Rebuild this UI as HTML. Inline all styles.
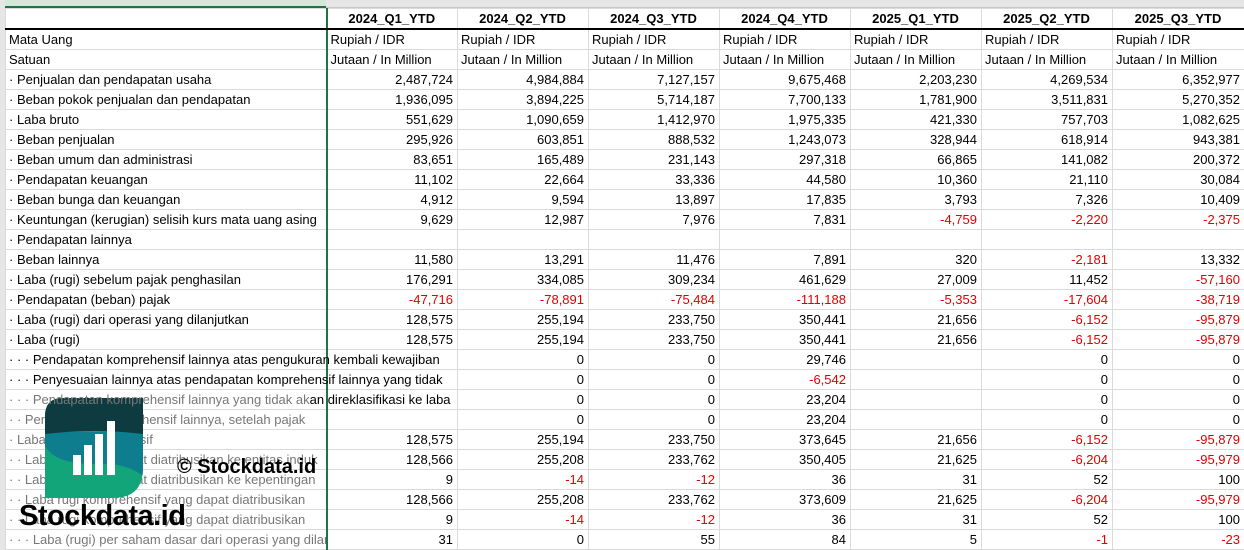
<!DOCTYPE html>
<html><head><meta charset="utf-8">
<style>
body{margin:0;width:1244px;height:550px;overflow:hidden;background:#fff;font-family:"Liberation Sans",sans-serif;font-size:13px;color:#000;position:relative}
.top{position:absolute;left:0;top:0;width:1244px;height:8px;background:#e6e6e6;border-bottom:1px solid #c8c8c8;box-sizing:border-box}
.topA{position:absolute;left:5px;top:0;width:321px;height:8px;background:#d3e8d9;border-bottom:2px solid #217346;box-sizing:border-box}
table{position:absolute;left:5px;top:8px;width:1239px;border-collapse:collapse;table-layout:fixed}
td{height:20px;padding:0 4px 0 3px;border:1px solid #dadada;white-space:nowrap;overflow:hidden;line-height:19px;box-sizing:border-box}
td.n{text-align:right}
td.a{overflow:visible;position:relative}
td.a div{position:absolute;left:3px;top:0;width:314px;overflow:hidden;white-space:nowrap;z-index:1}
td.a div.w{width:448px}
tr.h td{font-weight:bold;text-align:center;border-bottom:2px solid #000}
.r{color:#e00000}
.g{color:#777}
.bl{border-right:2px solid #217346}
.ov{border-left-color:transparent}
</style></head><body>
<div class="top"></div><div class="topA"></div>
<table>
<colgroup><col style="width:321px"><col style="width:131px"><col style="width:131px"><col style="width:131px"><col style="width:131px"><col style="width:131px"><col style="width:131px"><col style="width:132px"></colgroup>
<tr class="h"><td class="bl"></td><td>2024_Q1_YTD</td><td>2024_Q2_YTD</td><td>2024_Q3_YTD</td><td>2024_Q4_YTD</td><td>2025_Q1_YTD</td><td>2025_Q2_YTD</td><td>2025_Q3_YTD</td></tr>
<tr><td class="bl">Mata Uang</td><td>Rupiah / IDR</td><td>Rupiah / IDR</td><td>Rupiah / IDR</td><td>Rupiah / IDR</td><td>Rupiah / IDR</td><td>Rupiah / IDR</td><td>Rupiah / IDR</td></tr>
<tr><td class="bl">Satuan</td><td>Jutaan / In Million</td><td>Jutaan / In Million</td><td>Jutaan / In Million</td><td>Jutaan / In Million</td><td>Jutaan / In Million</td><td>Jutaan / In Million</td><td>Jutaan / In Million</td></tr>
<tr><td class="bl">· Penjualan dan pendapatan usaha</td><td class="n">2,487,724</td><td class="n">4,984,884</td><td class="n">7,127,157</td><td class="n">9,675,468</td><td class="n">2,203,230</td><td class="n">4,269,534</td><td class="n">6,352,977</td></tr>
<tr><td class="bl">· Beban pokok penjualan dan pendapatan</td><td class="n">1,936,095</td><td class="n">3,894,225</td><td class="n">5,714,187</td><td class="n">7,700,133</td><td class="n">1,781,900</td><td class="n">3,511,831</td><td class="n">5,270,352</td></tr>
<tr><td class="bl">· Laba bruto</td><td class="n">551,629</td><td class="n">1,090,659</td><td class="n">1,412,970</td><td class="n">1,975,335</td><td class="n">421,330</td><td class="n">757,703</td><td class="n">1,082,625</td></tr>
<tr><td class="bl">· Beban penjualan</td><td class="n">295,926</td><td class="n">603,851</td><td class="n">888,532</td><td class="n">1,243,073</td><td class="n">328,944</td><td class="n">618,914</td><td class="n">943,381</td></tr>
<tr><td class="bl">· Beban umum dan administrasi</td><td class="n">83,651</td><td class="n">165,489</td><td class="n">231,143</td><td class="n">297,318</td><td class="n">66,865</td><td class="n">141,082</td><td class="n">200,372</td></tr>
<tr><td class="bl">· Pendapatan keuangan</td><td class="n">11,102</td><td class="n">22,664</td><td class="n">33,336</td><td class="n">44,580</td><td class="n">10,360</td><td class="n">21,110</td><td class="n">30,084</td></tr>
<tr><td class="bl">· Beban bunga dan keuangan</td><td class="n">4,912</td><td class="n">9,594</td><td class="n">13,897</td><td class="n">17,835</td><td class="n">3,793</td><td class="n">7,326</td><td class="n">10,409</td></tr>
<tr><td class="bl">· Keuntungan (kerugian) selisih kurs mata uang asing</td><td class="n">9,629</td><td class="n">12,987</td><td class="n">7,976</td><td class="n">7,831</td><td class="n r">-4,759</td><td class="n r">-2,220</td><td class="n r">-2,375</td></tr>
<tr><td class="bl">· Pendapatan lainnya</td><td></td><td></td><td></td><td></td><td></td><td></td><td></td></tr>
<tr><td class="bl">· Beban lainnya</td><td class="n">11,580</td><td class="n">13,291</td><td class="n">11,476</td><td class="n">7,891</td><td class="n">320</td><td class="n r">-2,181</td><td class="n">13,332</td></tr>
<tr><td class="bl">· Laba (rugi) sebelum pajak penghasilan</td><td class="n">176,291</td><td class="n">334,085</td><td class="n">309,234</td><td class="n">461,629</td><td class="n">27,009</td><td class="n">11,452</td><td class="n r">-57,160</td></tr>
<tr><td class="bl">· Pendapatan (beban) pajak</td><td class="n r">-47,716</td><td class="n r">-78,891</td><td class="n r">-75,484</td><td class="n r">-111,188</td><td class="n r">-5,353</td><td class="n r">-17,604</td><td class="n r">-38,719</td></tr>
<tr><td class="bl">· Laba (rugi) dari operasi yang dilanjutkan</td><td class="n">128,575</td><td class="n">255,194</td><td class="n">233,750</td><td class="n">350,441</td><td class="n">21,656</td><td class="n r">-6,152</td><td class="n r">-95,879</td></tr>
<tr><td class="bl">· Laba (rugi)</td><td class="n">128,575</td><td class="n">255,194</td><td class="n">233,750</td><td class="n">350,441</td><td class="n">21,656</td><td class="n r">-6,152</td><td class="n r">-95,879</td></tr>
<tr><td class="a bl"><div class="w">· · · Pendapatan komprehensif lainnya atas pengukuran kembali kewajiban</div></td><td class="ov"></td><td class="n">0</td><td class="n">0</td><td class="n">29,746</td><td></td><td class="n">0</td><td class="n">0</td></tr>
<tr><td class="a bl"><div class="w">· · · Penyesuaian lainnya atas pendapatan komprehensif lainnya yang tidak</div></td><td class="ov"></td><td class="n">0</td><td class="n">0</td><td class="n r">-6,542</td><td></td><td class="n">0</td><td class="n">0</td></tr>
<tr><td class="a bl"><div class="w"><span class="g">· · · Pendapatan komprehensif lainnya yang tidak ak</span>an direklasifikasi ke laba</div></td><td class="ov"></td><td class="n">0</td><td class="n">0</td><td class="n">23,204</td><td></td><td class="n">0</td><td class="n">0</td></tr>
<tr><td class="bl g">· · Pendapatan komprehensif lainnya, setelah pajak</td><td></td><td class="n">0</td><td class="n">0</td><td class="n">23,204</td><td></td><td class="n">0</td><td class="n">0</td></tr>
<tr><td class="bl g">· Laba rugi komprehensif</td><td class="n">128,575</td><td class="n">255,194</td><td class="n">233,750</td><td class="n">373,645</td><td class="n">21,656</td><td class="n r">-6,152</td><td class="n r">-95,879</td></tr>
<tr><td class="bl g">· · Laba rugi yang dapat diatribusikan ke entitas induk</td><td class="n">128,566</td><td class="n">255,208</td><td class="n">233,762</td><td class="n">350,405</td><td class="n">21,625</td><td class="n r">-6,204</td><td class="n r">-95,979</td></tr>
<tr><td class="bl g">· · Laba rugi yang dapat diatribusikan ke kepentingan</td><td class="n">9</td><td class="n r">-14</td><td class="n r">-12</td><td class="n">36</td><td class="n">31</td><td class="n">52</td><td class="n">100</td></tr>
<tr><td class="bl g">· · Laba rugi komprehensif yang dapat diatribusikan</td><td class="n">128,566</td><td class="n">255,208</td><td class="n">233,762</td><td class="n">373,609</td><td class="n">21,625</td><td class="n r">-6,204</td><td class="n r">-95,979</td></tr>
<tr><td class="bl g">· · Laba rugi komprehensif yang dapat diatribusikan</td><td class="n">9</td><td class="n r">-14</td><td class="n r">-12</td><td class="n">36</td><td class="n">31</td><td class="n">52</td><td class="n">100</td></tr>
<tr><td class="bl g">· · · Laba (rugi) per saham dasar dari operasi yang dilanjutkan</td><td class="n">31</td><td class="n">0</td><td class="n">55</td><td class="n">84</td><td class="n">5</td><td class="n r">-1</td><td class="n r">-23</td></tr>
</table>
<div style="position:absolute;left:0;top:0;width:5px;height:550px;background:#e6e6e6"></div>
<svg style="position:absolute;left:45px;top:398px" width="98" height="100" viewBox="0 0 98 100">
<defs><clipPath id="c"><path d="M18 0 H98 V70 Q98 100 68 100 H0 V18 Q0 0 18 0Z"/></clipPath></defs>
<g clip-path="url(#c)">
<rect width="98" height="100" fill="#13a57a"/>
<path d="M0 34 H98 V78 Q80 64 50 66 Q10 66 0 48Z" fill="#0e7d8e"/>
<path d="M0 0 H98 V36 Q50 30 0 36Z" fill="#0d3b40"/>
</g>
<rect x="28" y="57" width="8" height="20" fill="#fff"/>
<rect x="39" y="47" width="8" height="30" fill="#fff"/>
<rect x="50" y="36" width="8" height="41" fill="#fff"/>
<rect x="62" y="23" width="8" height="54" fill="#fff"/>
</svg>
<div style="position:absolute;left:177px;top:456px;font-size:20px;font-weight:bold;color:#000">© Stockdata.id</div>
<div style="position:absolute;left:19px;top:500px;font-size:29px;font-weight:bold;color:#000;letter-spacing:-0.5px">Stockdata.id</div>
</body></html>
